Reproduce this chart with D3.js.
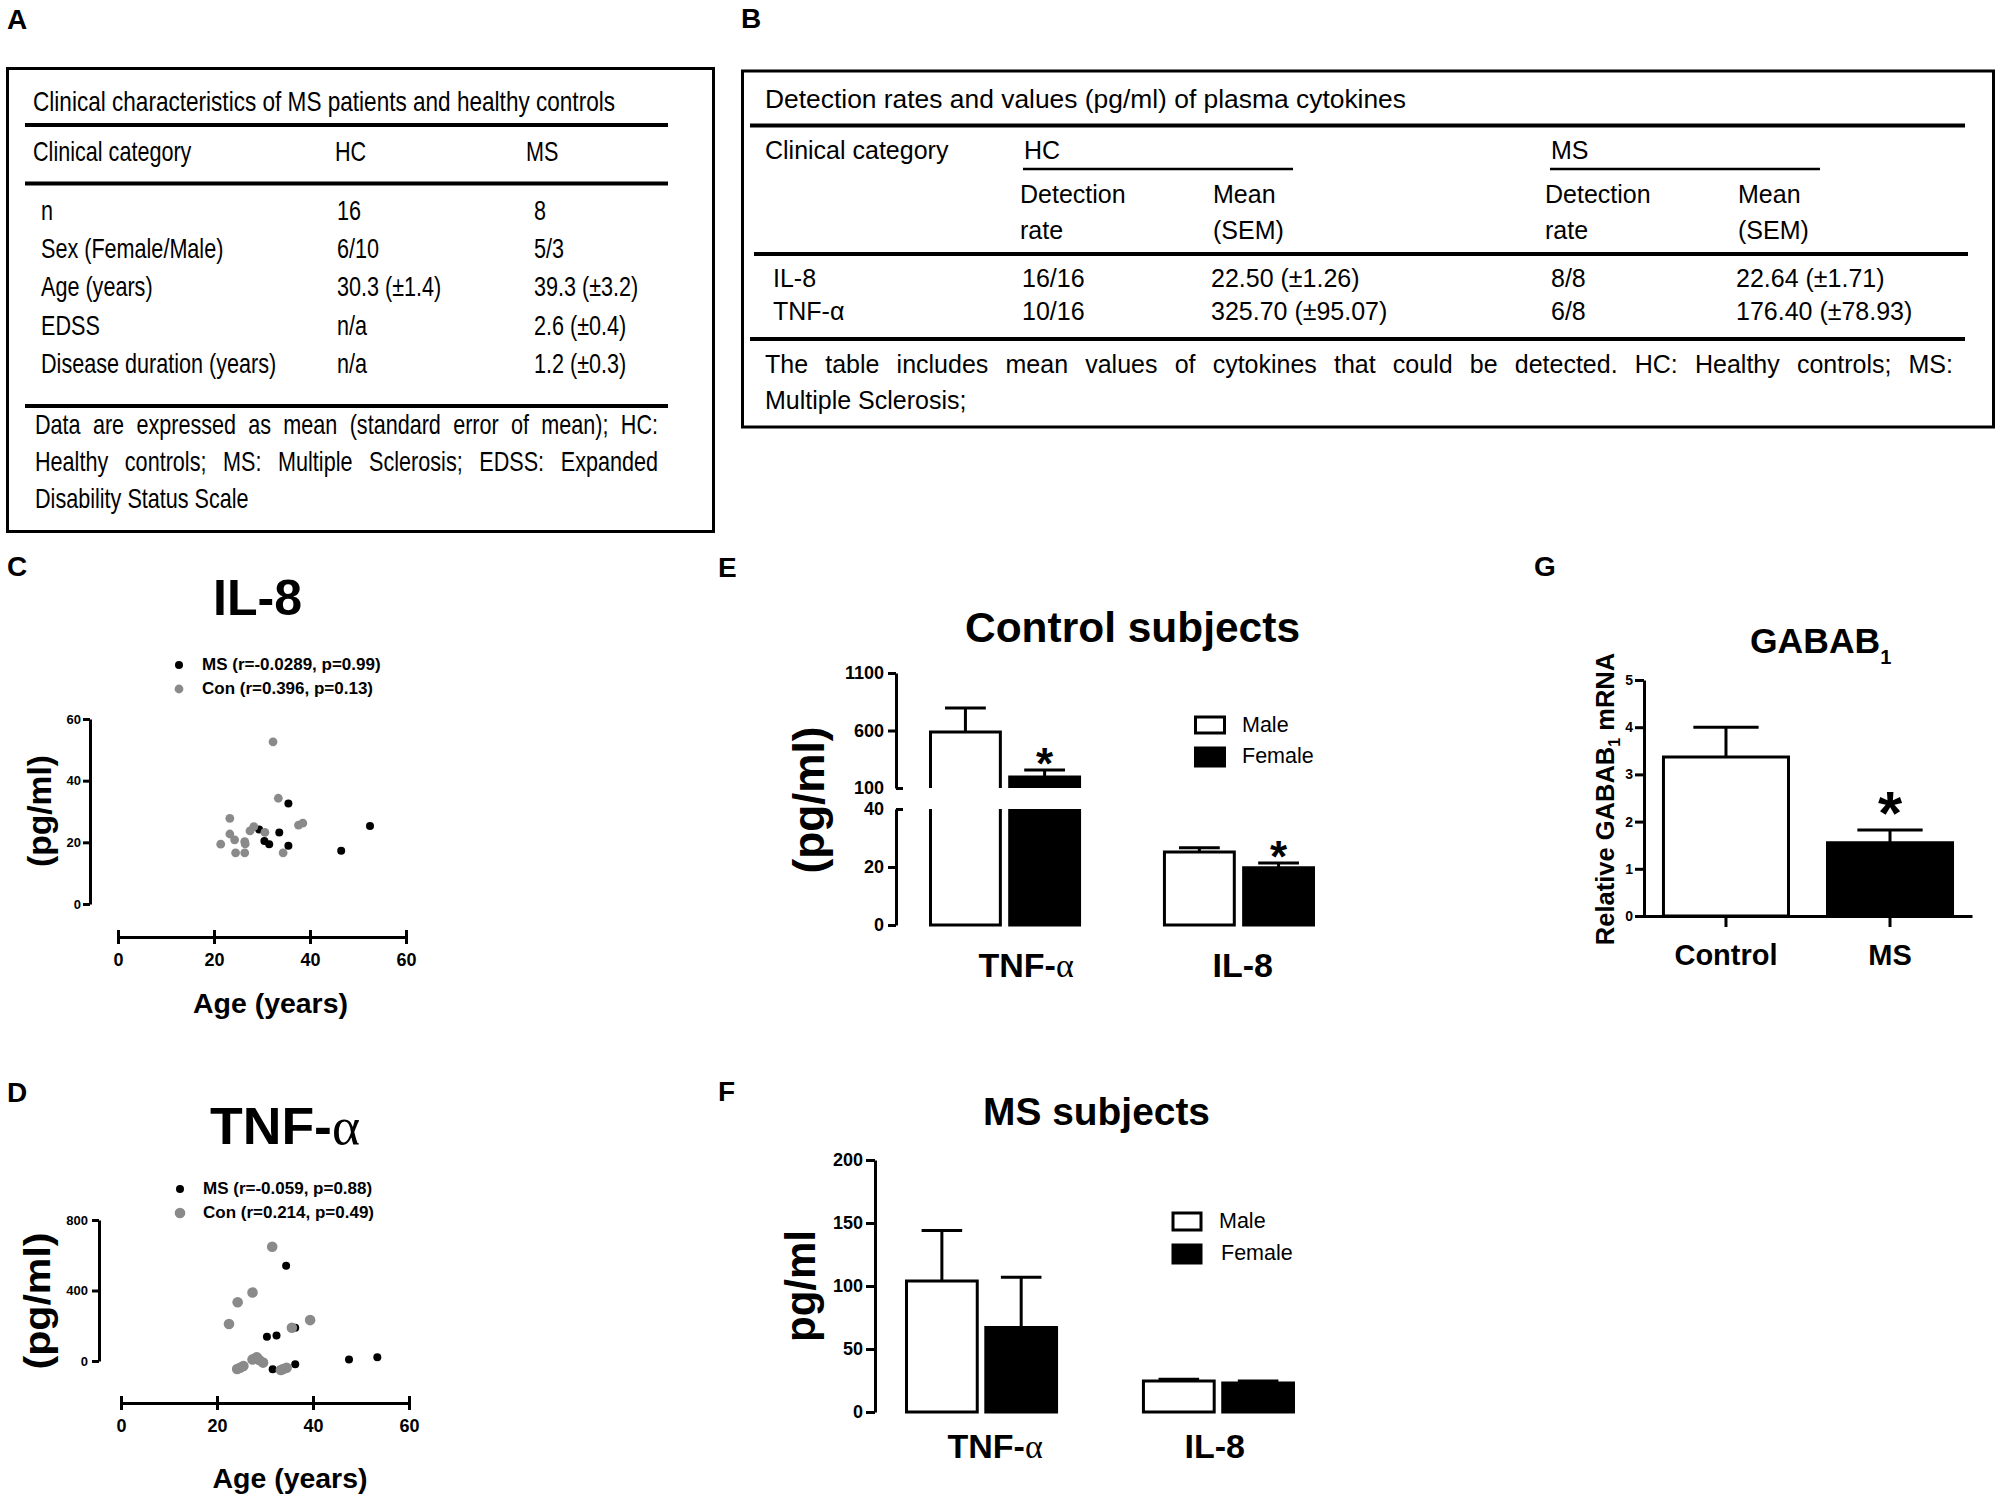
<!DOCTYPE html>
<html>
<head>
<meta charset="utf-8">
<script src="https://cdn.jsdelivr.net/npm/d3@7/dist/d3.min.js"></script>
<style>
html,body{margin:0;padding:0;background:#fff;}
svg{display:block;}
</style>
</head>
<body>
<svg id="fig" width="2001" height="1499" xmlns="http://www.w3.org/2000/svg"></svg>
<script>
// ================= DATA =================
const panelLetters = ["A", "B", "C", "D", "E", "F", "G"];

// Table A
const tableATitle = "Clinical characteristics of MS patients and healthy controls";
const tableAHeader = ["Clinical category", "HC", "MS"];
const tableALabels = ["n", "Sex (Female/Male)", "Age (years)", "EDSS", "Disease duration (years)"];
const tableAHC = ["16", "6/10", "30.3 (\u00b11.4)", "n/a", "n/a"];
const tableAMS = ["8", "5/3", "39.3 (\u00b13.2)", "2.6 (\u00b10.4)", "1.2 (\u00b10.3)"];
const tableANote = [
  "Data are expressed as mean (standard error of mean); HC:",
  "Healthy controls; MS: Multiple Sclerosis; EDSS: Expanded",
  "Disability Status Scale"
];

// Table B
const tableBTitle = "Detection rates and values (pg/ml) of plasma cytokines";
const tableBCategory = "Clinical category";
const tableBGroups = ["HC", "MS"];
const tableBSubRate = ["Detection", "rate"];
const tableBSubMean = ["Mean", "(SEM)"];
const tableBLabels = ["IL-8", "TNF-\u03b1"];
const tableBHCRate = ["16/16", "10/16"];
const tableBHCMean = ["22.50 (\u00b11.26)", "325.70 (\u00b195.07)"];
const tableBMSRate = ["8/8", "6/8"];
const tableBMSMean = ["22.64 (\u00b11.71)", "176.40 (\u00b178.93)"];
const tableBNote = [
  "The table includes mean values of cytokines that could be detected. HC: Healthy controls; MS:",
  "Multiple Sclerosis;"
];

// Panel C: IL-8 vs age
const il8Title = "IL-8";
const il8LegendMS = "MS (r=-0.0289, p=0.99)";
const il8LegendCon = "Con (r=0.396, p=0.13)";
const il8MSAge = [35.5, 33.6, 29.4, 30.5, 31.5, 35.5, 46.5, 52.5];
const il8MSVal = [32.6, 23.2, 24.2, 20.4, 19.4, 18.9, 17.3, 25.3];
const il8ConAge = [32.3, 33.4, 23.3, 23.3, 24.3, 21.4, 24.5, 26.4, 26.4, 26.5, 27.5, 28.3, 30.6, 34.4, 37.6, 38.5];
const il8ConVal = [52.6, 34.3, 27.8, 22.7, 20.8, 19.4, 16.6, 16.6, 20.2, 19.5, 23.7, 25.1, 23.2, 16.6, 25.6, 26.2];
const il8YTicks = [0, 20, 40, 60];
const ageTicks = [0, 20, 40, 60];

// Panel D: TNF-alpha vs age
const tnfTitle = "TNF-\u03b1";
const tnfLegendMS = "MS (r=-0.059, p=0.88)";
const tnfLegendCon = "Con (r=0.214, p=0.49)";
const tnfMSAge = [34.4, 36.3, 30.4, 32.4, 31.6, 36.3, 47.5, 53.4];
const tnfMSVal = [541, 189, 138, 144, -47, -19, 9, 21];
const tnfConAge = [31.5, 27.4, 24.3, 22.5, 39.4, 35.6, 28.3, 27.4, 29.6, 25.5, 24.2, 24.8, 33.3, 34.5, 33.8, 28.8];
const tnfConVal = [648, 389, 333, 210, 232, 189, 21, 9, -9, -28, -45, -38, -51, -38, -45, 6];
const tnfYTicks = [0, 400, 800];

// Panels E / F: cytokines by sex
const cytokines = ["TNF-\u03b1", "IL-8"];
const sexes = ["Male", "Female"];
const ctrlMaleMean = [587, 25.2];
const ctrlMaleSEM = [209, 1.4];
const ctrlFemaleMean = [196, 19.7];
const ctrlFemaleSEM = [61, 1.7];
const ctrlFemaleStar = [true, true];
const eTicksLow = [0, 20, 40];
const eTicksHigh = [100, 600, 1100];

const msMaleMean = [104, 24.6];
const msMaleSEM = [40, 1.4];
const msFemaleMean = [67, 23.0];
const msFemaleSEM = [40, 1.6];
const msFemaleStar = [false, false];
const fTicks = [0, 50, 100, 150, 200];

// Panel G: GABAB1 mRNA
const gabaGroups = ["Control", "MS"];
const gabaMean = [3.37, 1.55];
const gabaSEM = [0.63, 0.27];
const gabaStar = [false, true];
const gTicks = [0, 1, 2, 3, 4, 5];

// ================= HELPERS =================
const svg = d3.select("#fig");
svg.append("rect").attr("width", 2001).attr("height", 1499).attr("fill", "#fff");
const SANS = "'Liberation Sans', Arial, Helvetica, sans-serif";
const SERIF = "'Liberation Serif', 'Times New Roman', serif";
const GRAY = "#8a8a8a";
const intFmt = d3.format("d");

function txt(g, s, x, y, o = {}) {
  const t = g.append("text").attr("x", x).attr("y", y)
    .attr("font-family", o.family || SANS).attr("font-size", o.size || 16)
    .attr("font-weight", o.weight || "normal").attr("fill", "#000")
    .attr("text-anchor", o.anchor || "start");
  const parts = String(s).split("\u03b1");
  if (o.serifAlpha && parts.length > 1) {
    parts.forEach((p, i) => {
      if (p) t.append("tspan").text(p);
      if (i < parts.length - 1) t.append("tspan").attr("font-family", SERIF).attr("font-weight", "normal").text("\u03b1");
    });
  } else {
    t.text(s);
  }
  if (o.len) t.attr("textLength", o.len).attr("lengthAdjust", "spacingAndGlyphs");
  if (o.sx) t.attr("x", 0).attr("y", 0).attr("transform", `translate(${x},${y}) scale(${o.sx},1)`);
  if (o.transform) t.attr("transform", o.transform).attr("x", 0).attr("y", 0);
  return t;
}

function hline(g, x1, x2, y, w) {
  g.append("line").attr("x1", x1).attr("x2", x2).attr("y1", y).attr("y2", y)
    .attr("stroke", "#000").attr("stroke-width", w);
}

function justify(g, s, x0, x1, y, o) {
  const sx = o.sx || 1;
  const t = g.append("text").attr("y", y).attr("font-family", o.family || SANS).attr("font-size", o.size).attr("fill", "#000")
    .attr("transform", `scale(${sx},1)`);
  const words = s.split(" ");
  const spans = words.map(w => t.append("tspan").text(w));
  const widths = spans.map(sp => sp.node().getComputedTextLength());
  const a = x0 / sx, b = x1 / sx;
  const gap = (b - a - d3.sum(widths)) / (words.length - 1);
  let x = a;
  spans.forEach((sp, i) => { sp.attr("x", x); x += widths[i] + gap; });
}

function styleAxis(a, size) {
  a.attr("font-family", SANS).attr("font-size", size).attr("font-weight", "bold");
  a.select(".domain").attr("stroke", "#000").attr("stroke-width", 3);
  a.selectAll(".tick line").attr("stroke", "#000").attr("stroke-width", 3);
  a.selectAll(".tick text").attr("fill", "#000");
}

// bar segment: mode closed | openTop | openBottom
function barSeg(g, x0, w, yBottom, yTop, filled, mode) {
  const sw = 3, xl = x0 + sw / 2, xr = x0 + w - sw / 2;
  g.append("rect").attr("x", xl).attr("y", yTop).attr("width", xr - xl).attr("height", Math.max(0, yBottom - yTop))
    .attr("fill", filled ? "#000" : "#fff");
  let p;
  if (mode === "openTop") p = `M${xl},${yTop}V${yBottom}H${xr}V${yTop}`;
  else if (mode === "openBottom") p = `M${xl},${yBottom}V${yTop}H${xr}V${yBottom}`;
  else p = `M${xl},${yBottom}V${yTop}H${xr}V${yBottom}Z`;
  g.append("path").attr("d", p).attr("fill", "none").attr("stroke", "#000").attr("stroke-width", sw);
}

function errBar(g, cx, yTop, yErr, capW) {
  g.append("line").attr("x1", cx).attr("x2", cx).attr("y1", yTop).attr("y2", yErr).attr("stroke", "#000").attr("stroke-width", 3);
  g.append("line").attr("x1", cx - capW / 2).attr("x2", cx + capW / 2).attr("y1", yErr).attr("y2", yErr).attr("stroke", "#000").attr("stroke-width", 3);
}

// ================= PANEL LETTERS =================
const letterPos = [[7, 29], [741, 28], [7, 576], [7, 1102], [718, 577], [718, 1101], [1534, 576]];
panelLetters.forEach((L, i) => txt(svg, L, letterPos[i][0], letterPos[i][1], { size: 28, weight: "bold" }));

// ================= TABLE A =================
{
  const g = svg.append("g");
  const F = { family: SANS, size: 27, sx: 0.8 };
  g.append("rect").attr("x", 7.5).attr("y", 68.5).attr("width", 706).attr("height", 463)
    .attr("fill", "none").attr("stroke", "#000").attr("stroke-width", 3);
  txt(g, tableATitle, 33, 111, { ...F, len: 582 / F.sx });
  [125, 183.5, 406].forEach(y => hline(g, 25, 668, y, 4));
  const colX = [33, 335, 526];
  tableAHeader.forEach((h, i) => txt(g, h, colX[i], 161, F));
  tableALabels.forEach((lab, i) => {
    const y = 220 + i * 38.2;
    txt(g, lab, 41, y, F);
    txt(g, tableAHC[i], 337, y, F);
    txt(g, tableAMS[i], 534, y, F);
  });
  justify(g, tableANote[0], 35, 658, 434, F);
  justify(g, tableANote[1], 35, 658, 471, F);
  txt(g, tableANote[2], 35, 508, F);
}

// ================= TABLE B =================
{
  const g = svg.append("g");
  const F = { family: SANS, size: 25 };
  g.append("rect").attr("x", 742.5).attr("y", 71).attr("width", 1251).attr("height", 356)
    .attr("fill", "none").attr("stroke", "#000").attr("stroke-width", 3);
  txt(g, tableBTitle, 765, 108, { ...F, len: 641 });
  hline(g, 750, 1965, 125.5, 4);
  hline(g, 754, 1968, 254, 4);
  hline(g, 750, 1965, 339, 4);
  txt(g, tableBCategory, 765, 159, F);
  const grpX = [1024, 1551];
  tableBGroups.forEach((gr, i) => {
    txt(g, gr, grpX[i], 159, F);
    hline(g, grpX[i] - 1, grpX[i] + 269, 169, 2.5);
  });
  const rateX = [1020, 1545], meanX = [1213, 1738];
  [0, 1].forEach(k => {
    tableBSubRate.forEach((s, j) => txt(g, s, rateX[k], 202.5 + j * 36.5, F));
    tableBSubMean.forEach((s, j) => txt(g, s, meanX[k], 202.5 + j * 36.5, F));
  });
  tableBLabels.forEach((lab, i) => {
    const y = 287 + i * 33;
    txt(g, lab, 773, y, F);
    txt(g, tableBHCRate[i], 1022, y, F);
    txt(g, tableBHCMean[i], 1211, y, F);
    txt(g, tableBMSRate[i], 1551, y, F);
    txt(g, tableBMSMean[i], 1736, y, F);
  });
  justify(g, tableBNote[0], 765, 1953, 373, F);
  txt(g, tableBNote[1], 765, 409, F);
}

// ================= SCATTER PANELS C, D =================
function scatter(o) {
  const g = svg.append("g");
  const x = d3.scaleLinear().domain([0, 60]).range(o.xr);
  const y = d3.scaleLinear().domain(o.yd).range(o.yr);
  const ya = g.append("g").attr("transform", `translate(${o.yAxisX},0)`)
    .call(d3.axisLeft(y).tickValues(o.yTicks).tickFormat(intFmt).tickSize(7).tickSizeOuter(0).tickPadding(o.yPad));
  styleAxis(ya, 13);
  const xa = g.append("g").attr("transform", `translate(0,${o.xAxisY})`)
    .call(d3.axisBottom(x).tickValues(ageTicks).tickFormat(intFmt).tickSize(7).tickSizeOuter(0));
  styleAxis(xa, 18);
  xa.selectAll(".tick line").attr("y1", -7).attr("y2", 7);
  xa.selectAll(".tick text").attr("y", 29).attr("dy", 0);

  g.selectAll("circle.ms").data(d3.zip(o.msAge, o.msVal)).join("circle").attr("class", "ms")
    .attr("cx", d => x(d[0])).attr("cy", d => y(d[1])).attr("r", o.rMS).attr("fill", "#000");
  g.selectAll("circle.con").data(d3.zip(o.conAge, o.conVal)).join("circle").attr("class", "con")
    .attr("cx", d => x(d[0])).attr("cy", d => y(d[1])).attr("r", o.rCon).attr("fill", GRAY);

  // legend
  g.append("circle").attr("cx", o.legX).attr("cy", o.legY[0]).attr("r", o.rMS).attr("fill", "#000");
  g.append("circle").attr("cx", o.legX).attr("cy", o.legY[1]).attr("r", o.rCon).attr("fill", GRAY);
  txt(g, o.legMS, o.legX + 23, o.legY[0] + 5, { size: 17, weight: "bold" });
  txt(g, o.legCon, o.legX + 23, o.legY[1] + 5, { size: 17, weight: "bold" });

  // titles
  txt(g, o.title, o.titleX, o.titleY, { size: o.titleSize, weight: "bold", anchor: "middle", serifAlpha: true, len: o.titleLen });
  txt(g, "Age (years)", 0, 0, { size: 28, weight: "bold", anchor: "middle", transform: `translate(${o.xLabX},${o.xLabY})`, len: 155 });
  txt(g, "(pg/ml)", 0, 0, { size: o.yLabSize, weight: "bold", anchor: "middle", transform: `translate(${o.yLabX},${o.yLabY}) rotate(-90)`, len: o.yLabLen });
}

scatter({
  xr: [118, 406], yd: [0, 60], yr: [904, 719], yTicks: il8YTicks, yAxisX: 90, yPad: 2, xAxisY: 937,
  msAge: il8MSAge, msVal: il8MSVal, conAge: il8ConAge, conVal: il8ConVal, rMS: 4, rCon: 4.4,
  legX: 179, legY: [665, 689], legMS: il8LegendMS, legCon: il8LegendCon,
  title: il8Title, titleX: 257.5, titleY: 615, titleSize: 50, titleLen: 89,
  xLabX: 270.5, xLabY: 1013, yLabX: 51, yLabY: 811, yLabSize: 33, yLabLen: 112
});

scatter({
  xr: [121, 409], yd: [0, 800], yr: [1361, 1220], yTicks: tnfYTicks, yAxisX: 99, yPad: 4, xAxisY: 1403,
  msAge: tnfMSAge, msVal: tnfMSVal, conAge: tnfConAge, conVal: tnfConVal, rMS: 4, rCon: 5.3,
  legX: 180, legY: [1189, 1213], legMS: tnfLegendMS, legCon: tnfLegendCon,
  title: tnfTitle, titleX: 285, titleY: 1144, titleSize: 52, titleLen: 150,
  xLabX: 290, xLabY: 1488, yLabX: 50, yLabY: 1301, yLabSize: 36, yLabLen: 137
});

// ================= PANEL E (broken axis) =================
{
  const g = svg.append("g");
  const xE = d3.scaleBand().domain(cytokines).range([929, 1315]).paddingInner(0.35);
  const xS = d3.scaleBand().domain(sexes).range([0, xE.bandwidth()]).paddingInner(0.08);
  const yLow = d3.scaleLinear().domain([0, 40]).range([925, 809]);
  const yHigh = d3.scaleLinear().domain([100, 1100]).range([788, 673]);
  const axX = 896;
  const aLow = g.append("g").attr("transform", `translate(${axX},0)`)
    .call(d3.axisLeft(yLow).tickValues(eTicksLow).tickFormat(intFmt).tickSize(8).tickSizeOuter(0).tickPadding(4));
  const aHigh = g.append("g").attr("transform", `translate(${axX},0)`)
    .call(d3.axisLeft(yHigh).tickValues(eTicksHigh).tickFormat(intFmt).tickSize(8).tickSizeOuter(0).tickPadding(4));
  styleAxis(aLow, 18); styleAxis(aHigh, 18);
  aLow.selectAll(".tick").filter(d => d === 40).select("line").attr("x2", 7);
  aHigh.selectAll(".tick").filter(d => d === 100).select("line").attr("x2", 7);

  const bars = cytokines.flatMap((c, i) => [
    { cat: c, sex: "Male", mean: ctrlMaleMean[i], sem: ctrlMaleSEM[i], star: false },
    { cat: c, sex: "Female", mean: ctrlFemaleMean[i], sem: ctrlFemaleSEM[i], star: ctrlFemaleStar[i] }
  ]);
  bars.forEach(d => {
    const x0 = xE(d.cat) + xS(d.sex), w = xS.bandwidth(), cx = x0 + w / 2;
    const filled = d.sex === "Female";
    let top, err;
    if (d.mean > yLow.domain()[1]) {
      barSeg(g, x0, w, yLow(0), yLow(40), filled, "openTop");
      barSeg(g, x0, w, yHigh(100), yHigh(d.mean), filled, "openBottom");
      top = yHigh(d.mean); err = yHigh(d.mean + d.sem);
    } else {
      barSeg(g, x0, w, yLow(0), yLow(d.mean), filled, "closed");
      top = yLow(d.mean); err = yLow(d.mean + d.sem);
    }
    errBar(g, cx, top, err, w * 0.56);
    if (d.star) txt(g, "*", cx, err + 9, { size: 44, weight: "bold", anchor: "middle" });
  });
  cytokines.forEach(c => txt(g, c, xE(c) + xE.bandwidth() / 2 - 26.5, 977, { size: 34, weight: "bold", serifAlpha: true }));
  txt(g, "Control subjects", 1132.5, 642, { size: 42, weight: "bold", anchor: "middle", len: 335 });
  txt(g, "(pg/ml)", 0, 0, { size: 44, weight: "bold", anchor: "middle", transform: "translate(824,800) rotate(-90)", len: 147 });
  // legend
  barSeg(g, 1194, 32, 733, 717, false, "closed");
  barSeg(g, 1194, 32, 766, 748, true, "closed");
  txt(g, sexes[0], 1242, 732, { size: 21.5 });
  txt(g, sexes[1], 1242, 763, { size: 21.5 });
}

// ================= PANEL F =================
{
  const g = svg.append("g");
  const xF = d3.scaleBand().domain(cytokines).range([905, 1295]).paddingInner(0.354);
  const xS = d3.scaleBand().domain(sexes).range([0, xF.bandwidth()]).paddingInner(0.07);
  const y = d3.scaleLinear().domain([0, 200]).range([1412, 1160]);
  const a = g.append("g").attr("transform", "translate(875,0)")
    .call(d3.axisLeft(y).tickValues(fTicks).tickFormat(intFmt).tickSize(9).tickSizeOuter(0).tickPadding(3));
  styleAxis(a, 18);
  const bars = cytokines.flatMap((c, i) => [
    { cat: c, sex: "Male", mean: msMaleMean[i], sem: msMaleSEM[i], star: false },
    { cat: c, sex: "Female", mean: msFemaleMean[i], sem: msFemaleSEM[i], star: msFemaleStar[i] }
  ]);
  bars.forEach(d => {
    const x0 = xF(d.cat) + xS(d.sex), w = xS.bandwidth(), cx = x0 + w / 2;
    barSeg(g, x0, w, y(0), y(d.mean), d.sex === "Female", "closed");
    errBar(g, cx, y(d.mean), y(d.mean + d.sem), w * 0.55);
    if (d.star) txt(g, "*", cx, y(d.mean + d.sem) + 9, { size: 44, weight: "bold", anchor: "middle" });
  });
  cytokines.forEach(c => txt(g, c, xF(c) + xF.bandwidth() / 2 - 34, 1458, { size: 34, weight: "bold", serifAlpha: true }));
  txt(g, "MS subjects", 1096.5, 1125, { size: 39, weight: "bold", anchor: "middle", len: 227 });
  txt(g, "pg/ml", 0, 0, { size: 42, weight: "bold", anchor: "middle", transform: "translate(815,1286) rotate(-90)", len: 112 });
  barSeg(g, 1171.5, 31, 1230, 1213, false, "closed");
  barSeg(g, 1171.5, 31, 1263, 1245, true, "closed");
  txt(g, sexes[0], 1219, 1228, { size: 21.5 });
  txt(g, sexes[1], 1221, 1260, { size: 21.5 });
}

// ================= PANEL G =================
{
  const g = svg.append("g");
  const x = d3.scaleBand().domain(gabaGroups).range([1635, 1972]).paddingInner(0.2195).paddingOuter(0.137).align(0.6);
  const y = d3.scaleLinear().domain([0, 5]).range([916, 680]);
  const ya = g.append("g").attr("transform", "translate(1644,0)")
    .call(d3.axisLeft(y).tickValues(gTicks).tickFormat(intFmt).tickSize(9).tickSizeOuter(0).tickPadding(2));
  styleAxis(ya, 14);
  const xa = g.append("g").attr("transform", "translate(0,916)")
    .call(d3.axisBottom(x).tickSize(11).tickSizeOuter(0));
  styleAxis(xa, 29);
  xa.selectAll(".tick text").attr("y", 49).attr("dy", 0);
  gabaGroups.forEach((grp, i) => {
    const x0 = x(grp), w = x.bandwidth(), cx = x0 + w / 2;
    barSeg(g, x0, w, y(0), y(gabaMean[i]), i === 1, "closed");
    errBar(g, cx, y(gabaMean[i]), y(gabaMean[i] + gabaSEM[i]), w * 0.51);
    if (gabaStar[i]) txt(g, "*", cx, y(gabaMean[i] + gabaSEM[i]) + 4, { size: 62, weight: "bold", anchor: "middle" });
  });
  const t = g.append("text").attr("x", 1750).attr("y", 653).attr("font-family", SANS).attr("font-weight", "bold").attr("font-size", 35.5).attr("fill", "#000");
  t.append("tspan").text("GABAB");
  t.append("tspan").attr("font-size", 20).attr("dy", 11).text("1");
  const yl = g.append("text").attr("transform", "translate(1614,799) rotate(-90)").attr("text-anchor", "middle")
    .attr("font-family", SANS).attr("font-weight", "bold").attr("font-size", 25.5).attr("fill", "#000");
  yl.append("tspan").text("Relative GABAB");
  yl.append("tspan").attr("font-size", 16).attr("dy", 6).text("1");
  yl.append("tspan").attr("dy", -6).text(" mRNA");
}
</script>
</body>
</html>
